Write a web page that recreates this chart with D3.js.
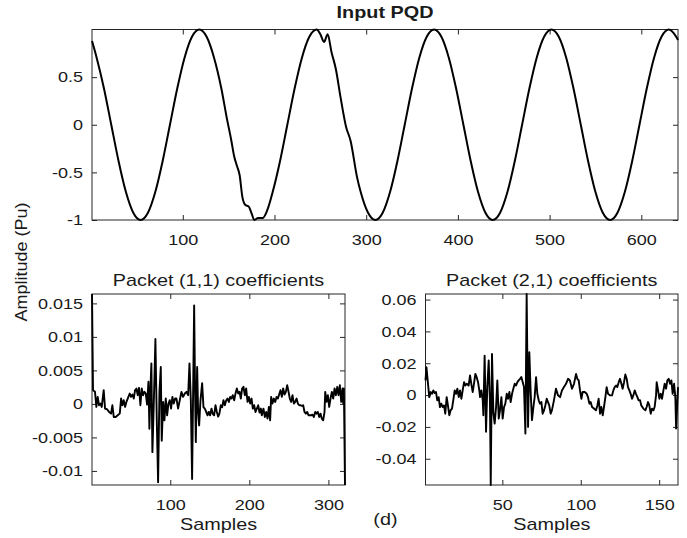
<!DOCTYPE html>
<html lang="en">
<head>
<meta charset="UTF-8">
<script src="https://d3js.org/d3.v7.min.js"></script>
<title>Input PQD</title>
<style>
    body { margin: 0; background: #fff; }
    text { font-family: 'Liberation Sans', Arial, sans-serif; fill: #1a1a1a; }
    .tick line { stroke: #262626; }
    .domain { display: none; }
    path.trace { fill: none; stroke: #000; stroke-linejoin: round; }
</style>
</head>
<body>
<svg width="687" height="538"></svg>
<script>
// input waveform (sample, pu)
const pqdS = [1, 6, 14, 22, 30, 38, 46, 54, 62, 70, 78, 86, 94, 102, 110, 118, 126, 134, 142, 148,
    153, 156, 159, 162, 165, 168, 172, 175, 178, 182, 187, 192, 198, 206, 214, 222, 230, 238, 246, 250,
    254, 258, 262, 267, 272, 278, 283, 290, 294, 302, 310, 318, 326, 334, 342, 350, 358, 366,
    374, 382, 390, 398, 406, 414, 422, 430, 438, 446, 454, 462, 470, 478, 486, 494,
    502, 510, 518, 526, 534, 542, 550, 558, 566, 574, 582, 590, 598, 606, 614, 622, 630, 638, 640];
const pqdV = [0.88, 0.707, 0.383, 0, -0.383, -0.707, -0.924, -1, -0.924, -0.707, -0.383, 0, 0.383, 0.707, 0.924, 1, 0.924, 0.707, 0.383, 0.07,
    -0.17, -0.33, -0.43, -0.53, -0.76, -0.84, -0.86, -0.93, -1, -0.98, -0.98, -0.9, -0.707, -0.383, 0, 0.383, 0.707, 0.924, 1, 0.95,
    0.87, 0.95, 0.77, 0.58, 0.29, -0.02, -0.17, -0.55, -0.707, -0.924, -1, -0.924, -0.707, -0.383, 0, 0.383, 0.707, 0.924,
    1, 0.924, 0.707, 0.383, 0, -0.383, -0.707, -0.924, -1, -0.924, -0.707, -0.383, 0, 0.383, 0.707, 0.924,
    1, 0.924, 0.707, 0.383, 0, -0.383, -0.707, -0.924, -1, -0.924, -0.707, -0.383, 0, 0.383, 0.707, 0.924, 1, 0.924, 0.89];

// packet (1,1) coefficients
const p11S = [1, 2.3, 4.8, 6.5, 8.2, 9.9, 11.6, 13.3, 15.8, 17.5, 20, 22.6, 25.1, 26.8, 28.5, 31, 33.5, 36.1, 37.8, 39.4,
    41.1, 42.8, 44.5, 46.2, 48.7, 50.4, 52.1, 53.8, 55.5, 57.2, 58.8, 60.5, 62.2, 63.9, 65.6, 67.3, 69, 70.7, 72.4, 73.6,
    74.9, 76.1, 77.4, 79.1, 81.2, 82.9, 84.6, 86.3, 88, 89.2, 91, 92.6, 94.3, 96, 97.7, 99.4, 101, 102.7, 104.4, 106.1,
    107.8, 109.9, 112, 114.1, 116.2, 118.4, 120.5, 122.6, 124.3, 126, 127.6, 130.2, 131.4, 132.3, 134, 135.2, 136.5, 138.2, 140.3, 142,
    143.7, 145.4, 147.1, 148.7, 150.4, 152.1, 153.8, 155.5, 157.2, 158.9, 160.6, 162.2, 163.9, 165.6, 167.3, 169, 170.7, 172.4, 174.1, 175.7,
    177.4, 179.1, 180.8, 182.5, 184.2, 185.9, 187.6, 189.2, 190.9, 192.6, 194.3, 196, 197.7, 199.4, 201.1, 202.8, 204.4, 206.1, 207.8, 209.5,
    211.2, 212.9, 214.6, 215.8, 217.9, 219.6, 221.3, 223, 224.7, 226.3, 227.6, 229.3, 231, 232.7, 234.4, 236.1, 237.7, 239.4, 241.1, 242.8,
    244.5, 246.2, 247.9, 249.6, 251.2, 252.9, 254.6, 256.3, 258, 259.7, 261.4, 263.1, 264.7, 266.4, 268.1, 269.8, 271.5, 273.2, 274.9, 276.6,
    278.2, 279.9, 281.6, 283.3, 285, 286.7, 288.4, 290.1, 291.7, 293.4, 295.1, 296, 297.7, 299.3, 301, 302.7, 304.4, 306.1, 307.8, 309.5,
    311.2, 312.8, 314.5, 316.2, 317.9, 318.8, 319.6, 321];
const p11V = [0.0164, 0.00205, 0.0018, -0.00045, 0.00105, -0.0002, 0.00005, -0.00045, 0.00205, -0.0007, -0.0008, -0.0012, -0.00145, -0.0002, -0.00195, -0.00195, -0.0017, -0.00145, 0.0008, -0.0002,
    0.00055, -0.00045, 0.0003, 0.0008, 0.00155, 0.00105, 0.0014, 0.0008, 0.00205, 0.0023, 0.0013, 0.0024, -0.0002, 0.0023, 0.0013, 0.0018, 0.00155, -0.0001, 0.0033, -0.0037,
    0.0023, 0.00605, -0.0072, -0.0002, 0.0097, -0.0022, -0.0117, 0.0018, 0.0055, -0.0055, 0.0003, -0.00245, 0.0008, -0.0017, 0.00005, 0.00055, -0.0007, 0.00105, 0.00005, 0.0008,
    0.0008, -0.0007, 0.00055, 0.0018, 0.00105, 0.00155, 0.0018, 0.0013, 0.00605, 0.0005, -0.0112, 0.0147, 0.0015, -0.0057, 0.0055, -0.001, -0.0032, 0.0005, 0.0031, -0.0005,
    -0.0007, -0.0012, -0.0017, -0.0012, -0.0017, -0.0007, -0.0015, -0.0017, -0.0002, -0.0012, -0.0019, -0.0014, -0.0002, -0.0005, 0.00055, -0.0002, 0.0005, 0.0008, 0.0003, 0.00105,
    0.0008, 0.0013, 0.00055, 0.00155, 0.0023, 0.00155, 0.0018, 0.0008, 0.0023, 0.00255, 0.0013, 0.0023, 0.0003, 0.00105, 0.00005, 0.0008, -0.0007, -0.0002, -0.0012, -0.0007,
    -0.0002, -0.0013, -0.0007, -0.0017, -0.0007, -0.00195, -0.0012, -0.0022, -0.00045, -0.00245, 0.00105, 0.00005, 0.0008, 0.0003, 0.00105, 0.0008, 0.0014, 0.00205, 0.00105, 0.0023,
    0.0014, 0.0018, 0.0028, 0.0018, 0.0008, 0.0003, 0.0013, 0.00005, 0.0003, 0.0008, 0.00005, -0.0002, -0.0002, -0.0003, -0.0002, -0.0012, -0.00145, -0.0012, -0.0017, -0.0017,
    -0.0017, -0.0016, -0.00195, -0.0012, -0.00145, -0.0012, -0.00195, -0.00145, -0.0022, -0.00245, -0.0012, 0.0018, 0.0003, 0.0013, -0.00045, 0.0008, 0.0018, 0.0008, 0.0023, 0.0013,
    0.00255, 0.0013, 0.0028, 0.0003, 0.0023, 0.00005, 0.0023, -0.0121];

// packet (2,1) coefficients
const p21S = [1, 1.6, 2.2, 3.4, 4.3, 5.1, 6, 6.8, 7.7, 8.5, 9.4, 10.2, 11.1, 11.9, 12.8, 13.6, 14.5, 15.3, 16.2, 17,
    17.9, 18.7, 19.6, 20.5, 21.3, 22.2, 23, 23.9, 24.7, 25.6, 26.4, 27.3, 28.5, 29.4, 30.2, 31.1, 31.9, 32.8, 33.6, 34.5,
    35.3, 35.8, 36.6, 37.5, 37.9, 38.7, 39.6, 40.4, 41.3, 42.1, 42.6, 43.4, 44.3, 45.1, 46, 46.8, 47.7, 48.5, 49.4, 50.2,
    51.1, 51.9, 52.8, 53.6, 54.5, 55.3, 56.2, 57, 57.9, 58.7, 59.6, 60.4, 61.3, 62.1, 63, 63.8, 64.7, 65.5, 66.4, 67.2,
    68.1, 68.9, 69.8, 70.6, 71.5, 72.3, 73.2, 74, 74.9, 75.7, 76.6, 77.4, 78.3, 79.1, 79.9, 80.8, 81.6, 82.9, 84.2, 85.5,
    86.8, 88, 89.3, 90.6, 91.9, 93.1, 94.4, 95.7, 97, 97.8, 98.7, 99.5, 100.4, 101.2, 102.5, 103.8, 104.6, 105.5, 106.3, 107.2,
    108.4, 109.7, 110.6, 111.4, 112.3, 113.1, 114, 114.8, 115.7, 116.5, 117.4, 118.6, 119.9, 120.8, 121.6, 122.5, 123.3, 124.2, 125, 125.9,
    126.7, 127.6, 128.4, 129.3, 130.1, 131, 131.8, 132.7, 133.5, 134.4, 135.2, 136.1, 136.9, 137.8, 138.6, 139.9, 141.2, 142, 142.9, 143.7,
    144.6, 145.4, 146.3, 147.1, 148, 148.4, 149.3, 150.1, 151, 151.8, 152.7, 153.5, 154.4, 155.2, 156.1, 156.9, 157.8, 158.6, 159.5, 160.3,
    160.8, 162];
const p21V = [0.0092, 0.0175, 0.0113, -0.0013, 0.0019, 0.0008, 0.0029, 0.0013, 0.0019, -0.0033, -0.0013, -0.0075, -0.0054, -0.0075, -0.0065, -0.0117, -0.0013, -0.0065, -0.0127, -0.0096,
    -0.0085, -0.0033, 0.0029, 0.0008, 0.004, -0.0013, 0.0029, -0.0023, 0.0029, 0.0081, 0.006, 0.0071, 0.006, 0.0123, 0.0071, 0.0019, 0.0071, 0.0133, 0.0113, 0.0081,
    0.0029, -0.0013, 0.0029, -0.0033, -0.0127, 0.0248, -0.0231, 0.005, 0.0217, -0.0044, -0.0565, 0.0258, -0.0117, -0.0179, -0.0075, 0.0092, -0.0148, -0.0096, -0.0013, -0.0148,
    -0.0075, -0.0054, 0.0008, -0.0023, 0.0019, -0.0044, 0.0008, 0.004, 0.0071, 0.006, 0.0081, 0.0092, 0.0102, 0.0113, 0.0081, 0.005, -0.0242, 0.0635, -0.02, 0.0269,
    0.0008, -0.0158, -0.0075, -0.0013, 0.0113, 0.0008, -0.0033, -0.0054, -0.0044, -0.0117, -0.0096, -0.0065, -0.0023, -0.0044, -0.0065, -0.0117, -0.0096, -0.0033, 0.004, -0.0002,
    -0.0013, 0.0029, 0.005, 0.0071, 0.0102, 0.0092, 0.004, 0.0071, 0.0133, 0.0102, 0.0092, 0.0029, -0.0023, 0.0019, 0.0019, 0.0008, -0.0013, -0.0054, -0.0044, -0.0075,
    -0.0085, -0.0096, -0.0065, -0.0023, -0.0117, -0.0075, -0.0127, -0.0075, -0.0013, 0.005, 0.0008, -0.0002, -0.0002, 0.0029, 0.005, 0.006, 0.005, 0.0081, 0.0102, 0.0071,
    0.004, 0.0081, 0.0129, 0.0102, 0.005, 0.0029, 0.0008, -0.0023, -0.0002, 0.0029, 0.0008, -0.0013, -0.0033, -0.0033, -0.0065, -0.0085, -0.0096, -0.0075, -0.0044, -0.0065,
    -0.0117, -0.0085, -0.0096, -0.0075, -0.0002, 0.0081, 0.0029, -0.0023, 0.0008, -0.0023, 0.0029, 0.0071, 0.004, 0.0092, 0.0102, 0.0071, 0.0092, 0.0008, 0.0071, -0.0013,
    -0.021, 0.005];

const topXTicks = [100, 200, 300, 400, 500, 600], topYTicks = [-1, -0.5, 0, 0.5];
const p11XTicks = [100, 200, 300], p11YTicks = [-0.01, -0.005, 0, 0.005, 0.01, 0.015];
const p21XTicks = [50, 100, 150], p21YTicks = [-0.04, -0.02, 0, 0.02, 0.04, 0.06];

// the figure is stretched sideways, so is its lettering
const SX_TICK = 1.2, SX_LAB = 1.24;
const svg = d3.select("svg");

function panel(o) {
    const x = d3.scaleLinear().domain(o.xDom).range([o.x0, o.x1]);
    const y = d3.scaleLinear().domain(o.yDom).range([o.y1, o.y0]);
    const g = svg.append("g");
    const plain = d => String(d);

    g.append("g").attr("transform", `translate(0,${o.y1})`)
        .call(d3.axisBottom(x).tickValues(o.xTicks).tickSizeInner(-5).tickSizeOuter(0).tickPadding(14).tickFormat(plain))
        .call(a => a.selectAll("text").style("font-size", "15px").attr("transform", `scale(${SX_TICK},1)`));
    g.append("g").attr("transform", `translate(0,${o.y0})`)
        .call(d3.axisTop(x).tickValues(o.xTicks).tickSizeInner(-5).tickSizeOuter(0).tickFormat(""));
    g.append("g").attr("transform", `translate(${o.x0},0)`)
        .call(d3.axisLeft(y).tickValues(o.yTicks).tickSizeInner(-5).tickSizeOuter(0).tickPadding(7.5).tickFormat(plain))
        .call(a => a.selectAll("text").style("font-size", "15px").attr("transform", `scale(${SX_TICK},1)`));
    g.append("g").attr("transform", `translate(${o.x1},0)`)
        .call(d3.axisRight(y).tickValues(o.yTicks).tickSizeInner(-5).tickSizeOuter(0).tickFormat(""));
    g.selectAll("text").attr("fill", "#1a1a1a");

    g.append("rect").attr("x", o.x0).attr("y", o.y0)
        .attr("width", o.x1 - o.x0).attr("height", o.y1 - o.y0)
        .attr("fill", "none").attr("stroke", "#262626").attr("stroke-width", 1);

    const pts = o.xs.map((s, i) => [s, o.ys[i]]);
    g.append("path").attr("class", "trace")
        .attr("stroke-width", o.lw)
        .attr("d", d3.line().x(d => x(d[0])).y(d => y(d[1])).curve(o.curve)(pts));

    const cx = (o.x0 + o.x1) / 2;
    g.append("text").attr("transform", `translate(${cx},${o.titleY}) scale(${SX_LAB},1)`)
        .attr("text-anchor", "middle").style("font-size", "16px")
        .style("font-weight", o.bold ? "bold" : "normal").text(o.title);
    if (o.xlabel) {
        g.append("text").attr("transform", `translate(${cx},530) scale(${SX_LAB},1)`)
            .attr("text-anchor", "middle").style("font-size", "16px").text(o.xlabel);
    }
}

panel({x0: 92, x1: 678, y0: 29.5, y1: 220, xDom: [1, 640], yDom: [-1, 1],
    xTicks: topXTicks, yTicks: topYTicks, xs: pqdS, ys: pqdV, lw: 2,
    curve: d3.curveMonotoneX, title: "Input PQD", titleY: 18, bold: true});
panel({x0: 92, x1: 345, y0: 294, y1: 485, xDom: [1, 321], yDom: [-0.0121, 0.0164],
    xTicks: p11XTicks, yTicks: p11YTicks, xs: p11S, ys: p11V, lw: 1.9,
    curve: d3.curveLinear, title: "Packet (1,1) coefficients", titleY: 286, xlabel: "Samples"});
panel({x0: 425.5, x1: 678, y0: 294, y1: 485, xDom: [1, 162], yDom: [-0.0565, 0.0635],
    xTicks: p21XTicks, yTicks: p21YTicks, xs: p21S, ys: p21V, lw: 1.9,
    curve: d3.curveLinear, title: "Packet (2,1) coefficients", titleY: 286, xlabel: "Samples"});

svg.append("text").attr("transform", "translate(27,262) scale(0.9,1) rotate(-90)")
    .attr("text-anchor", "middle").style("font-size", "18px").text("Amplitude (Pu)");
svg.append("text").attr("transform", `translate(385.5,525) scale(${SX_LAB},1)`)
    .attr("text-anchor", "middle").style("font-size", "16px").text("(d)");
</script>
</body>
</html>
